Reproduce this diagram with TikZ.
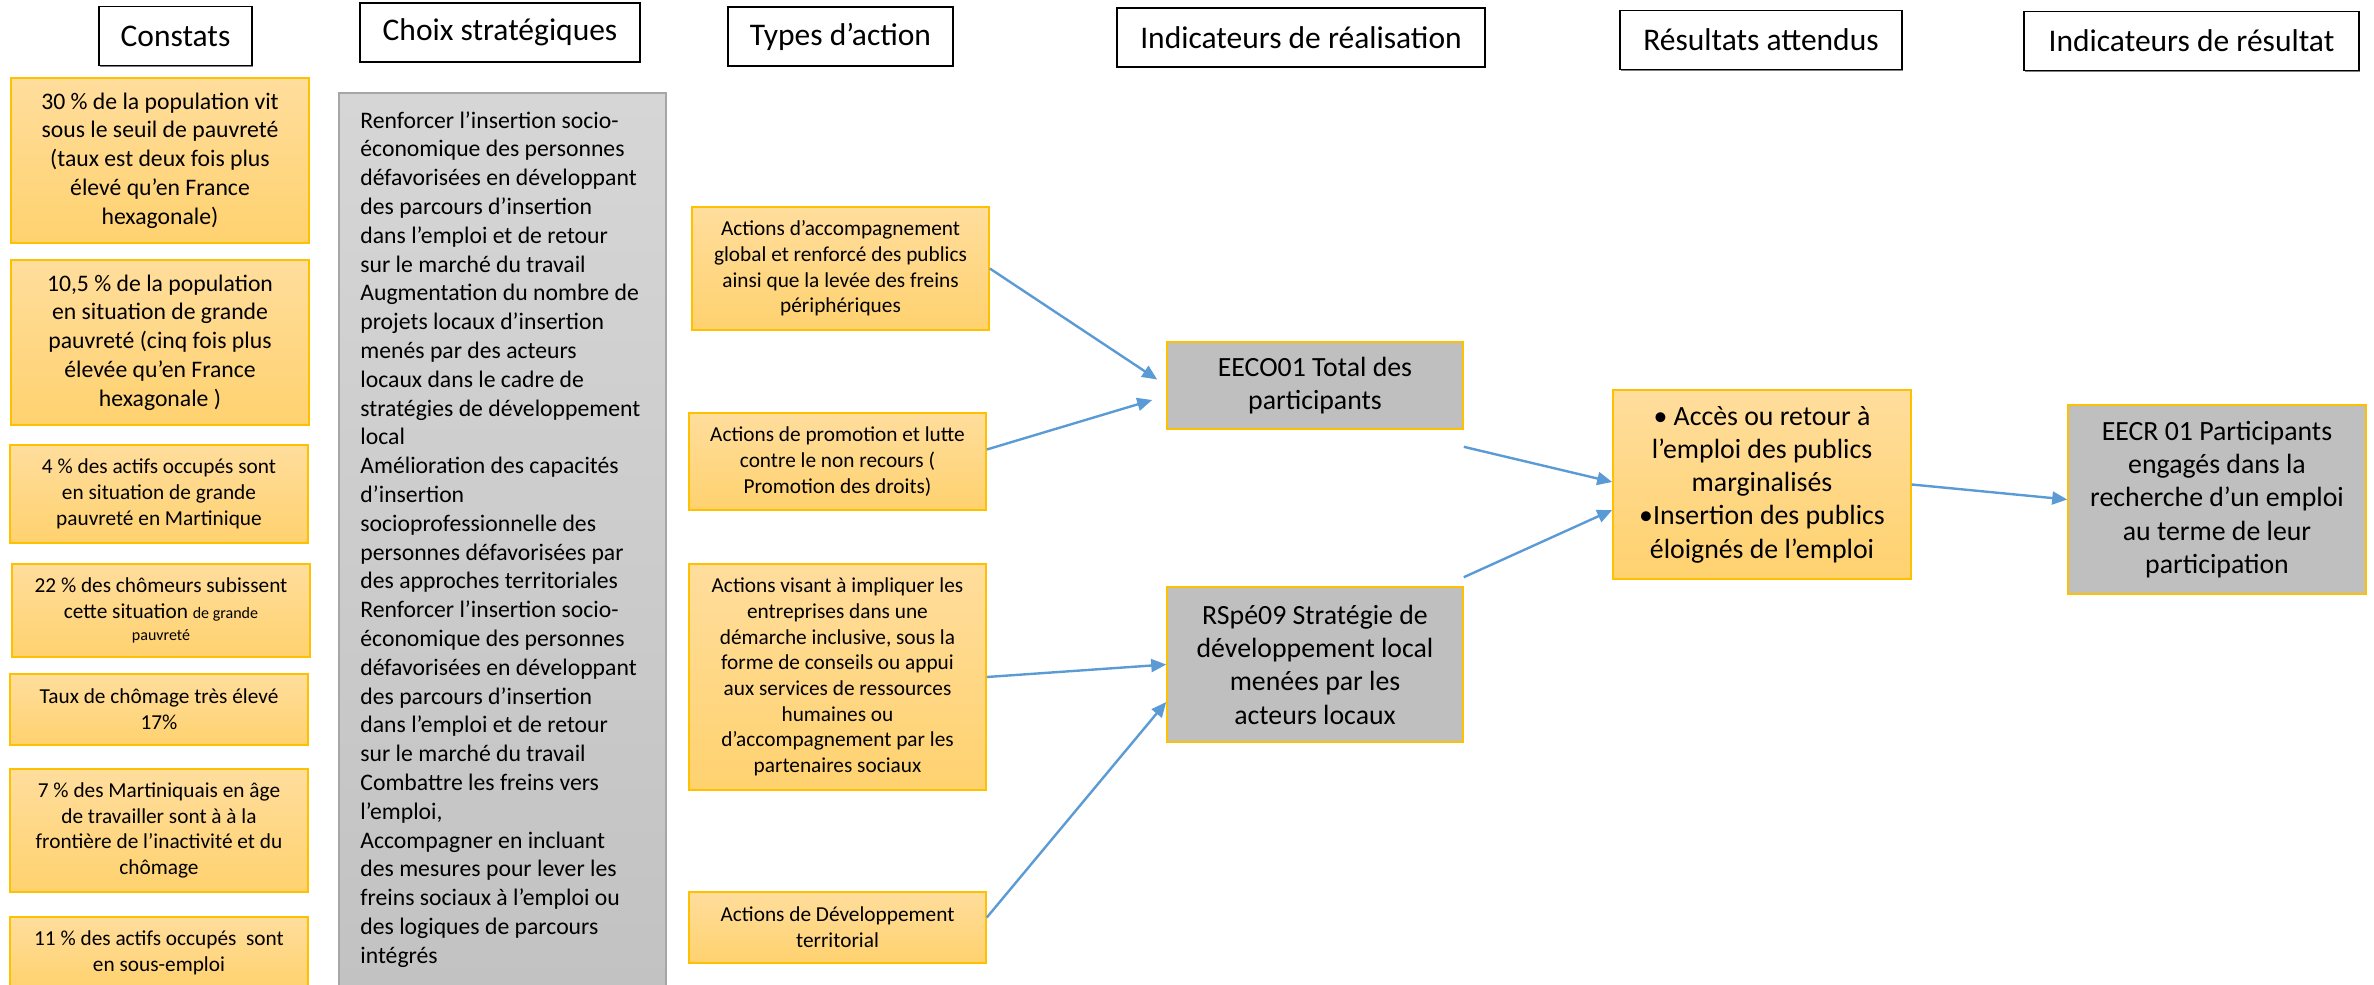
\documentclass[tikz,border=0pt]{standalone}
\usepackage{fontspec}
\setmainfont{Carlito}
\usetikzlibrary{arrows.meta,shadows}
\definecolor{gold}{HTML}{FFC000}
\definecolor{goldtop}{HTML}{FFDD9C}
\definecolor{goldbot}{HTML}{FFD26F}
\definecolor{indgray}{HTML}{BFBFBF}
\definecolor{choixtop}{HTML}{D6D6D6}
\definecolor{choixbot}{HTML}{C2C2C2}
\definecolor{choixline}{HTML}{A6A6A6}
\definecolor{flow}{HTML}{5B9BD5}
\newcommand{\headsize}{\fontsize{15.75}{19}\selectfont}
\newcommand{\bigsize}{\fontsize{11.85}{14.4}\selectfont}
\newcommand{\midsize}{\fontsize{10.65}{12.85}\selectfont}
\newcommand{\indsize}{\fontsize{13.9}{16.65}\selectfont}
\newcommand{\tinysize}{\fontsize{8}{10.8}\selectfont}
\tikzset{
  head/.style={draw=black, line width=0.9pt, fill=white, inner sep=0pt,
    minimum height=29.5pt, font=\headsize,
    drop shadow={shadow xshift=0.6pt, shadow yshift=-0.6pt, fill=black, opacity=0.5}},
  constat/.style={draw=gold, line width=0.8pt, top color=goldtop, bottom color=goldbot,
    align=center, inner sep=0pt, minimum width=149pt},
  action/.style={constat, minimum width=148.5pt, font=\midsize},
  indic/.style={draw=gold, line width=0.8pt, fill=indgray, align=center, inner sep=0pt,
    minimum width=148pt, font=\indsize},
  choixbox/.style={draw=choixline, line width=0.8pt, top color=choixtop, bottom color=choixbot,
    inner sep=0pt},
  flowarrow/.style={draw=flow, line width=1.2pt, -{Triangle[length=7.5pt,width=6.5pt]}}
}
\begin{document}
\begin{tikzpicture}[x=0.5pt,y=-0.5pt]
  \clip (0,0) rectangle (2374,985);
  % column headers
  \path
    (175.5,36) node[head, minimum width=76.5pt] (constats) {Constats}
    (500,32.5) node[head, minimum width=140pt] (choix) {Choix stratégiques}
    (840.5,36.5) node[head, minimum width=112.5pt] (types) {Types d’action}
    (1301,37.5) node[head, minimum width=184pt] (indreal) {Indicateurs de réalisation}
    (1761,40) node[head, minimum width=141pt] (resatt) {Résultats attendus}
    (2191.5,41) node[head, minimum width=167.5pt] (indres) {Indicateurs de résultat};
  % constats
  \path
    (160,160.5) node[constat, minimum height=82.5pt, font=\bigsize] (c1)
      {30 \% de la population vit\\ sous le seuil de pauvreté\\ (taux est deux fois plus\\ élevé qu’en France\\ hexagonale)}
    (160,342.5) node[constat, minimum height=82.5pt, font=\bigsize] (c2)
      {10,5 \% de la population\\ en situation de grande\\ pauvreté (cinq fois plus\\ élevée qu’en France\\ hexagonale )}
    (159,494) node[constat, minimum height=49pt, font=\midsize] (c3)
      {4 \% des actifs occupés sont\\ en situation de grande\\ pauvreté en Martinique}
    (161,610.5) node[constat, minimum height=46.5pt, font=\midsize] (c4)
      {22 \% des chômeurs subissent\\ cette situation {\tinysize de grande}\\[-2pt] {\tinysize pauvreté}}
    (159,709.5) node[constat, minimum height=35.5pt, font=\midsize] (c5)
      {Taux de chômage très élevé\\ 17\%}
    (159,830.5) node[constat, minimum height=61.5pt, font=\midsize] (c6)
      {7 \% des Martiniquais en âge\\ de travailler sont à à la\\ frontière de l’inactivité et du\\ chômage}
    (159,952.5) node[constat, minimum height=35.5pt, font=\midsize] (c7)
      {11 \% des actifs occupés~~sont\\ en sous-emploi};
  % choix strategiques
  \node[choixbox, minimum width=163.5pt, minimum height=448.5pt] (choixfond) at (502.5,541.5) {};
  \node[anchor=north west, align=left, inner sep=0pt, font=\bigsize] (choixtxt) at (360,111)
    {Renforcer l’insertion socio-\\ économique des personnes\\ défavorisées en développant\\
     des parcours d’insertion\\ dans l’emploi et de retour\\ sur le marché du travail\\
     Augmentation du nombre de\\ projets locaux d’insertion\\ menés par des acteurs\\
     locaux dans le cadre de\\ stratégies de développement\\ local\\
     Amélioration des capacités\\ d’insertion\\ socioprofessionnelle des\\
     personnes défavorisées par\\ des approches territoriales\\
     Renforcer l’insertion socio-\\ économique des personnes\\ défavorisées en développant\\
     des parcours d’insertion\\ dans l’emploi et de retour\\ sur le marché du travail\\
     Combattre les freins vers\\ l'emploi,\\ Accompagner en incluant\\
     des mesures pour lever les\\ freins sociaux à l’emploi ou\\ des logiques de parcours\\ intégrés};
  % types d'action
  \path
    (840.5,268.5) node[action, minimum height=61.5pt] (act1)
      {Actions d’accompagnement\\ global et renforcé des publics\\ ainsi que la levée des freins\\ périphériques}
    (837.5,461.5) node[action, minimum height=48.5pt] (act2)
      {Actions de promotion et lutte\\ contre le non recours (\\ Promotion des droits)}
    (837.5,677) node[action, minimum height=113pt] (act3)
      {Actions visant à impliquer les\\ entreprises dans une\\ démarche inclusive, sous la\\ forme de conseils ou appui\\
       aux services de ressources\\ humaines ou\\ d’accompagnement par les\\ partenaires sociaux}
    (837.5,927.5) node[action, minimum height=35.5pt] (act4)
      {Actions de Développement\\ territorial};
  % indicateurs et resultats
  \path
    (1315,385.5) node[indic, minimum height=43.5pt] (eeco) {EECO01 Total des\\ participants}
    (1315,664.5) node[indic, minimum height=77.5pt] (rspe)
      {RSpé09 Stratégie de\\ développement local\\ menées par les\\ acteurs locaux}
    (1762,484.5) node[constat, minimum height=94.5pt, font=\indsize] (res)
      {• Accès ou retour à\\ l’emploi des publics\\ marginalisés\\ •Insertion des publics\\ éloignés de l’emploi}
    (2217,499.5) node[indic, minimum width=149pt, minimum height=94.5pt] (eecr)
      {EECR 01 Participants\\ engagés dans la\\ recherche d’un emploi\\ au terme de leur\\ participation};
  \begin{scope}[flowarrow]
    \draw (act1.east) to ([xshift=-4.5pt,yshift=3pt]eeco.west);
    \draw ([yshift=6pt]act2.east) to ([xshift=-7pt,yshift=-7.25pt]eeco.west);
    \draw (act3.east) to (rspe.west);
    \draw ([yshift=5pt]act4.east) to ([yshift=-18.75pt]rspe.west);
    \draw ([yshift=-8.5pt]eeco.south east) to ([yshift=1.25pt]res.west);
    \draw ([yshift=4.5pt]rspe.north east) to ([yshift=-12.75pt]res.west);
    \draw (res.east) to (eecr.west);
  \end{scope}
\end{tikzpicture}
\end{document}
